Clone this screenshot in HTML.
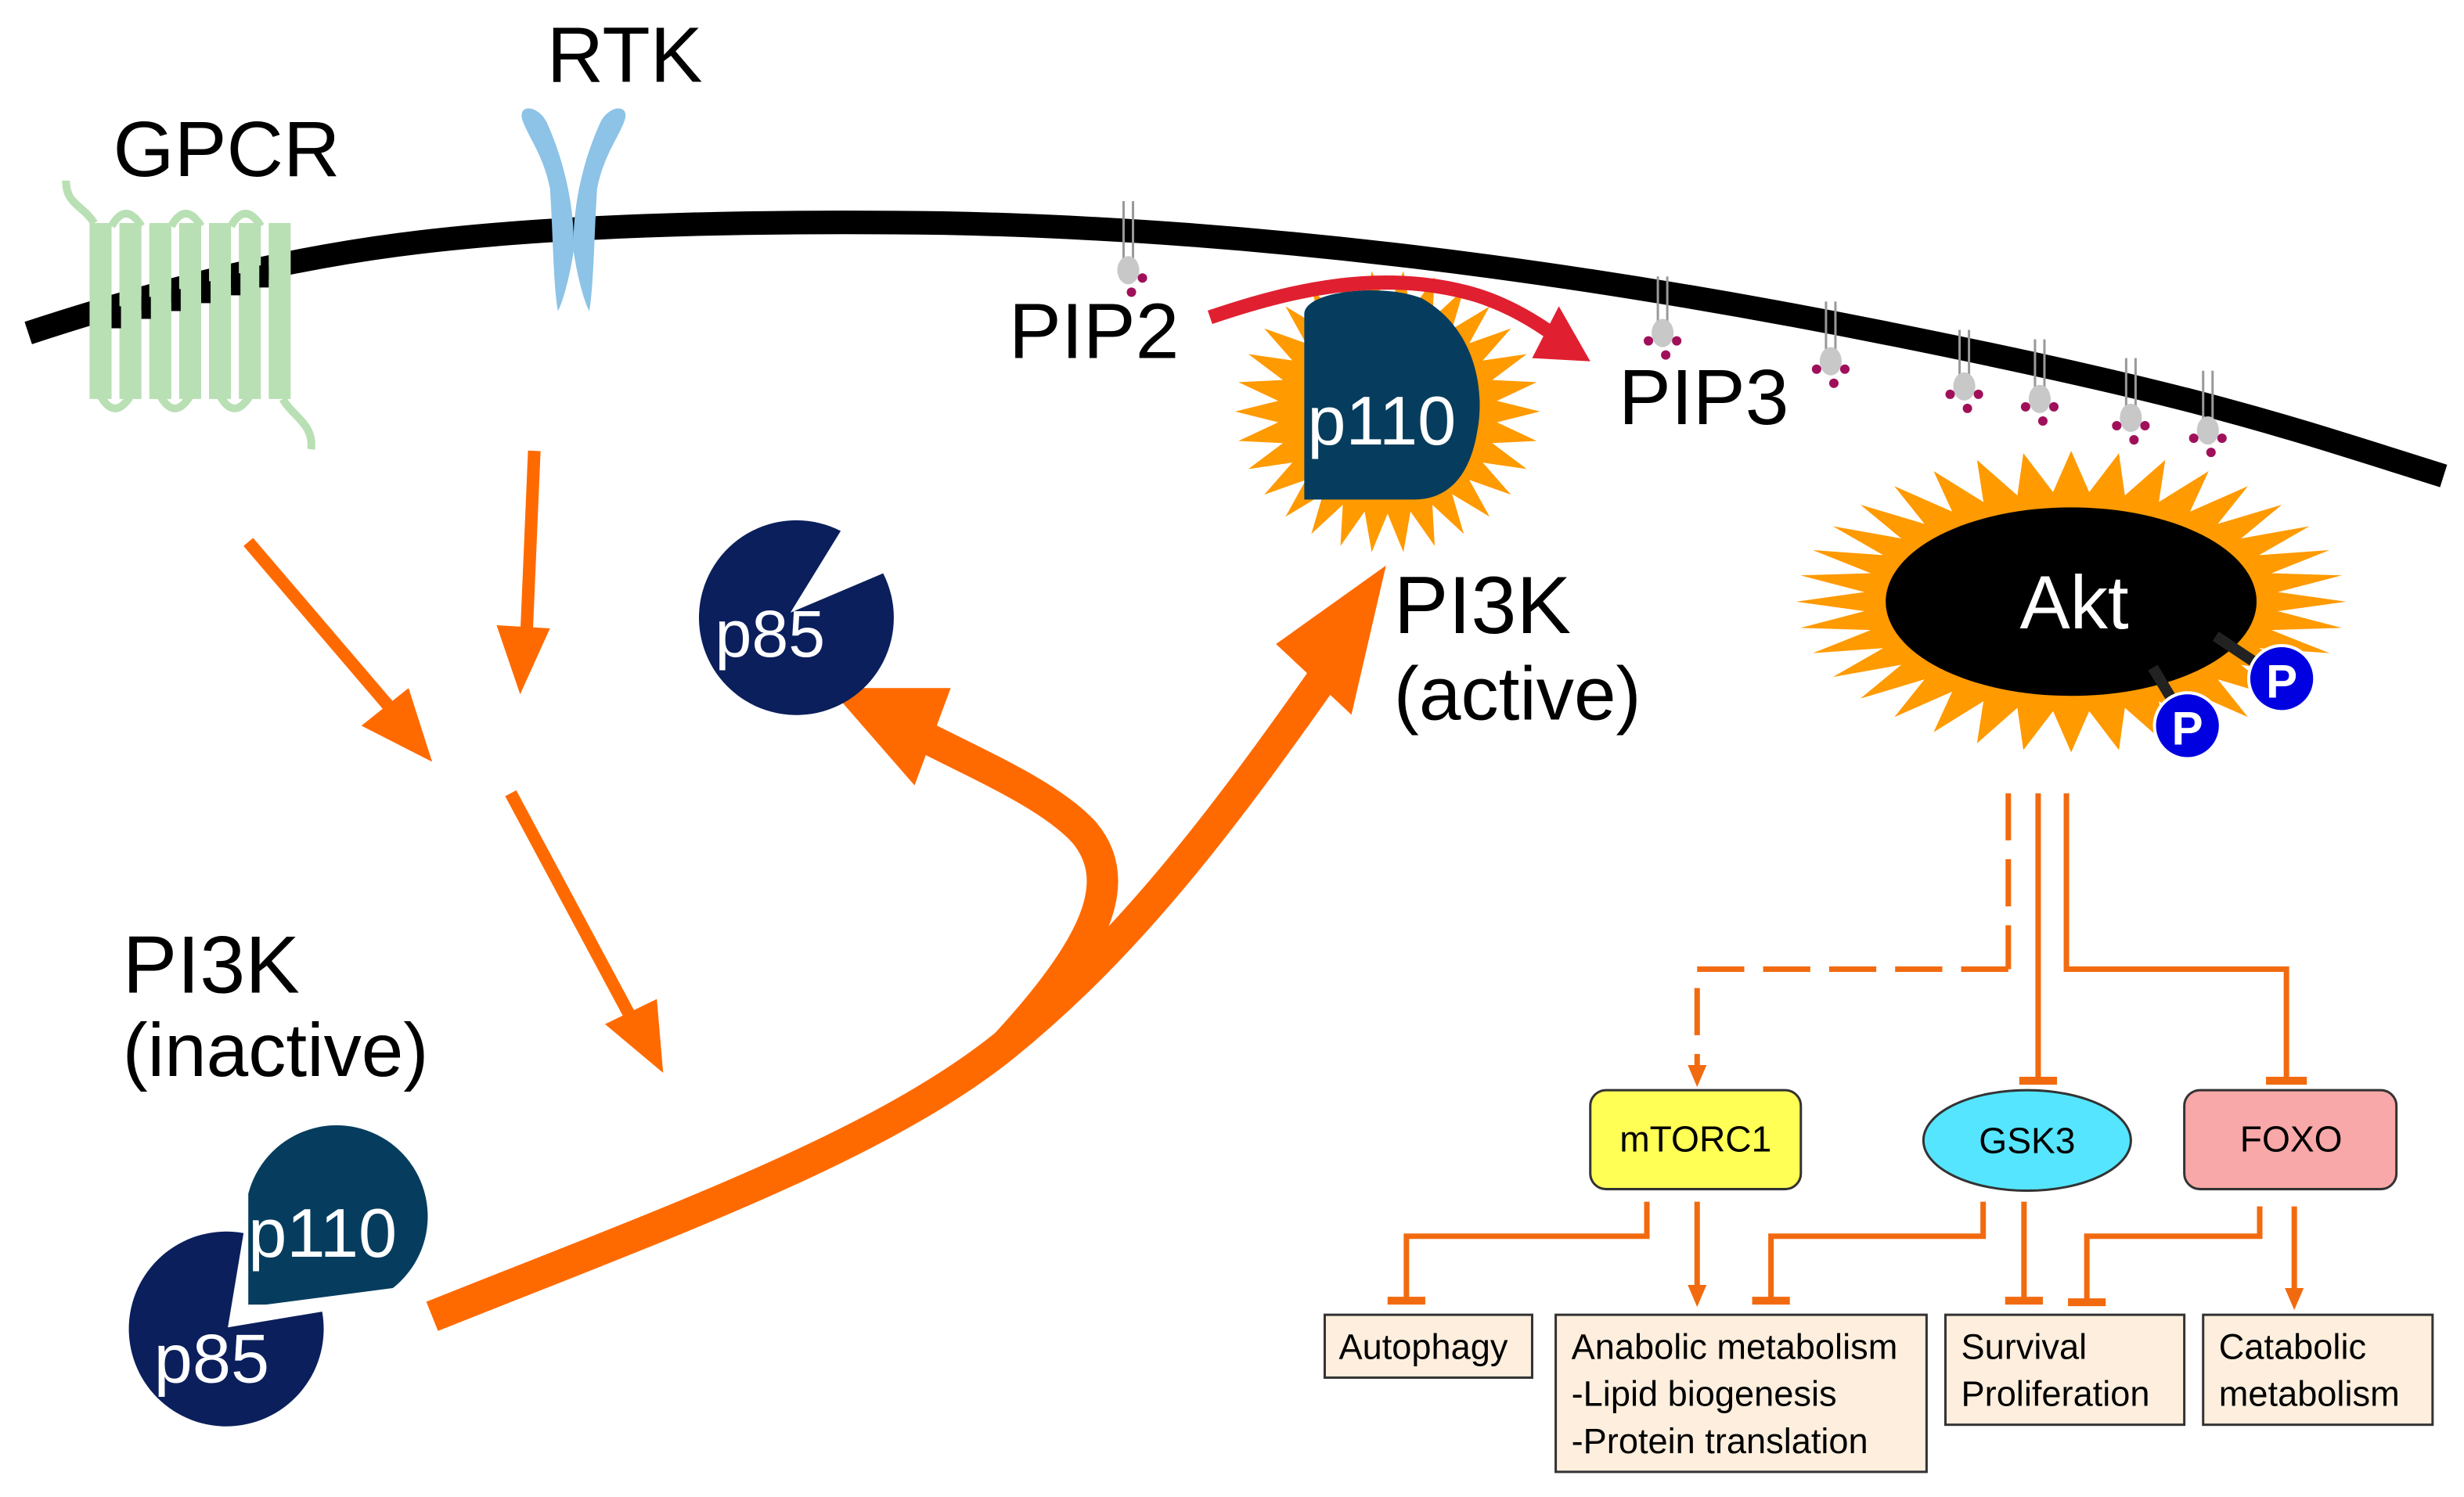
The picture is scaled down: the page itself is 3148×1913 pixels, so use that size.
<!DOCTYPE html>
<html><head><meta charset="utf-8"><style>
html,body{margin:0;padding:0;background:#fff;}
svg{display:block;}
text{font-family:"Liberation Sans",Arial,sans-serif;}
</style></head><body>
<svg id="s" width="3148" height="1913" viewBox="0 0 1568 953" preserveAspectRatio="none" xmlns="http://www.w3.org/2000/svg">
<!-- membrane -->
<path d="M18,212 C100,185 180,165 260,155 S450,140 600,142 C800,146 1000,172 1200,212 S1450,270 1555,303" fill="none" stroke="#000" stroke-width="15"/>
<!-- GPCR -->
<g fill="#b8e0b4">
<rect x="57" y="142" width="14" height="112"/><rect x="76" y="142" width="14" height="112"/><rect x="95" y="142" width="14" height="112"/><rect x="114" y="142" width="14" height="112"/><rect x="133" y="142" width="14" height="112"/><rect x="152" y="142" width="14" height="112"/><rect x="171" y="142" width="14" height="112"/>
</g>
<g fill="none" stroke="#b8e0b4" stroke-width="5">
<path d="M71,144 Q80,128 90,144 M109,144 Q118,128 128,144 M147,144 Q156,128 166,144"/>
<path d="M64,252 Q73,268 83,252 M102,252 Q111,268 121,252 M140,252 Q149,268 159,252"/>
<path d="M60,142 C52,130 42,130 42,115"/><path d="M180,254 C186,265 200,270 198,286"/>
</g>
<path d="M74,209 L74,195 M93,203 L93,189 M112,198 L112,184 M131,193 L131,179 M150,188 L150,174 M168,183 L168,169" stroke="#000" stroke-width="6"/>
<text x="72" y="112" font-size="50">GPCR</text>
<!-- RTK -->
<path d="M333,78 C328,66 342,66 348,78 C358,100 366,130 365,160 C362,180 357,195 355,198 C352,180 352,150 350,120 C346,100 338,90 333,78z" fill="#8cc3e6"/>
<path d="M397,78 C402,66 388,66 382,78 C372,100 364,130 365,160 C368,180 373,195 375,198 C378,180 378,150 380,120 C384,100 392,90 397,78z" fill="#8cc3e6"/>
<text x="348" y="52" font-size="50">RTK</text>
<!-- small orange arrows -->
<g stroke="#ff6a00" stroke-width="8" fill="#ff6a00">
<line x1="158" y1="345" x2="252" y2="455"/><polygon points="275,485 230,462 260,438" stroke="none"/>
<line x1="340" y1="287" x2="335" y2="405"/><polygon points="331,442 316,398 350,400" stroke="none"/>
<line x1="325" y1="505" x2="400" y2="645"/><polygon points="422,683 385,652 418,636" stroke="none"/>
</g>
<!-- thick curved arrows -->
<path d="M275,838 C420,780 560,730 640,665 C720,600 780,520 850,420" fill="none" stroke="#ff6a00" stroke-width="20"/>
<polygon points="882,360 860,455 812,410" fill="#ff6a00"/>
<path d="M640,665 C700,600 715,560 690,530 C670,508 630,490 590,470" fill="none" stroke="#ff6a00" stroke-width="20"/>
<polygon points="528,438 605,438 582,500" fill="#ff6a00"/>
<!-- p85 top -->
<path d="M503,390 L535,338 A62,62 0 1 0 562,365 Z" fill="#0b1f5c"/>
<text x="455" y="418" font-size="42" fill="#fff">p85</text>
<!-- inactive complex -->
<text x="78" y="632" font-size="52">PI3K</text>
<text x="78" y="685" font-size="48">(inactive)</text>
<path d="M158,832 L158,760 A58,58 0 1 1 250,820 Z" fill="#063d5e"/>
<path d="M145,845 L155,785 A62,62 0 1 0 205,835 Z" fill="#0b1f5c"/>
<path d="M158,832 L210,832" stroke="#fff" stroke-width="3"/>
<text x="158" y="800" font-size="44" fill="#fff">p110</text>
<text x="98" y="880" font-size="44" fill="#fff">p85</text>
<!-- stars -->
<g id="stars"><ellipse cx="883" cy="265" rx="85" ry="80" fill="#ff9a00"/><ellipse cx="1318" cy="383" rx="160" ry="85" fill="#ff9a00"/></g>
<path d="M830,200 C830,185 880,180 905,190 C940,210 945,250 940,275 C935,305 920,318 900,318 L830,318 Z" fill="#063d5e"/>
<text x="832" y="283" font-size="44" fill="#fff">p110</text>
<text x="887" y="403" font-size="52">PI3K</text>
<text x="887" y="458" font-size="48">(active)</text>
<!-- Akt -->
<ellipse cx="1318" cy="383" rx="118" ry="60" fill="#000"/>
<line x1="1410" y1="405" x2="1440" y2="425" stroke="#222" stroke-width="7"/>
<line x1="1370" y1="425" x2="1385" y2="450" stroke="#222" stroke-width="7"/>
<text x="1320" y="400" font-size="48" fill="#fff" text-anchor="middle">Akt</text>
<circle cx="1452" cy="432" r="21" fill="#0000e0" stroke="#fff" stroke-width="2"/>
<circle cx="1392" cy="462" r="21" fill="#0000e0" stroke="#fff" stroke-width="2"/>
<text x="1452" y="444" font-size="30" font-weight="bold" fill="#fff" text-anchor="middle">P</text>
<text x="1392" y="474" font-size="30" font-weight="bold" fill="#fff" text-anchor="middle">P</text>
<!-- red arrow -->
<path d="M770,202 C820,185 880,170 940,188 C965,196 985,210 995,218" fill="none" stroke="#e02030" stroke-width="9"/>
<polygon points="1012,230 975,228 992,195" fill="#e02030"/>
<text x="642" y="228" font-size="50">PIP2</text>
<text x="1030" y="270" font-size="50">PIP3</text>
<!-- lipids -->
<g id="lipids"></g>
<!-- lower pathways -->
<g stroke="#f26a10" stroke-width="3.5" fill="none">
<line x1="1278" y1="505" x2="1278" y2="617" stroke-dasharray="30,12"/>
<path d="M1278,617 L1080,617 L1080,680" stroke-dasharray="30,12"/>
<line x1="1297" y1="505" x2="1297" y2="688"/><line x1="1285" y1="688" x2="1309" y2="688" stroke-width="5"/>
<path d="M1315,505 L1315,617 L1455,617 L1455,688"/><line x1="1442" y1="688" x2="1468" y2="688" stroke-width="5"/>
<path d="M1048,765 L1048,787 L895,787 L895,827"/><line x1="883" y1="828" x2="907" y2="828" stroke-width="5"/>
<line x1="1080" y1="765" x2="1080" y2="820"/>
<path d="M1262,765 L1262,787 L1127,787 L1127,827"/><line x1="1115" y1="828" x2="1139" y2="828" stroke-width="5"/>
<line x1="1288" y1="765" x2="1288" y2="827"/><line x1="1276" y1="828" x2="1300" y2="828" stroke-width="5"/>
<path d="M1438,768 L1438,787 L1328,787 L1328,828"/><line x1="1316" y1="829" x2="1340" y2="829" stroke-width="5"/>
<line x1="1460" y1="768" x2="1460" y2="822"/>
</g>
<g fill="#f26a10"><polygon points="1074,678 1086,678 1080,692"/><polygon points="1074,818 1086,818 1080,832"/><polygon points="1454,820 1466,820 1460,834"/></g>
<rect x="1012" y="694" width="134" height="63" rx="10" fill="#ffff55" stroke="#333" stroke-width="1.5"/>
<text x="1079" y="733" font-size="23" text-anchor="middle">mTORC1</text>
<ellipse cx="1290" cy="726" rx="66" ry="32" fill="#55e5ff" stroke="#333" stroke-width="1.5"/>
<text x="1290" y="734" font-size="23" text-anchor="middle">GSK3</text>
<rect x="1390" y="694" width="135" height="63" rx="10" fill="#f8a8a8" stroke="#333" stroke-width="1.5"/>
<text x="1458" y="733" font-size="23" text-anchor="middle">FOXO</text>
<g fill="#fdeedd" stroke="#333" stroke-width="1.5">
<rect x="843" y="837" width="132" height="40"/><rect x="990" y="837" width="236" height="100"/><rect x="1238" y="837" width="152" height="70"/><rect x="1402" y="837" width="146" height="70"/>
</g>
<g font-size="22.5">
<text x="852" y="865">Autophagy</text>
<text x="1000" y="865">Anabolic metabolism</text><text x="1000" y="895">-Lipid biogenesis</text><text x="1000" y="925">-Protein translation</text>
<text x="1248" y="865">Survival</text><text x="1248" y="895">Proliferation</text>
<text x="1412" y="865">Catabolic</text><text x="1412" y="895">metabolism</text>
</g>
</svg>
<script>
(function(){
var ns="http://www.w3.org/2000/svg";
function star(cx,cy,rxo,ryo,rxi,ryi,n){var p=[];for(var i=0;i<2*n;i++){var a=Math.PI*i/n;var o=i%2==0;p.push((cx+(o?rxo:rxi)*Math.cos(a)).toFixed(1)+","+(cy+(o?ryo:ryi)*Math.sin(a)).toFixed(1));}
var e=document.createElementNS(ns,"polygon");e.setAttribute("points",p.join(" "));e.setAttribute("fill","#ff9a00");return e;}
var g=document.getElementById("stars");g.innerHTML="";
g.appendChild(star(883,262,97,90,70,65,30));
g.appendChild(star(1318,383,175,96,132,70,36));
var L=document.getElementById("lipids");
var pts=[[718,128,172],[1058,176,212],[1165,192,230],[1250,210,246],[1298,216,254],[1356,228,266],[1405,236,274]];
pts.forEach(function(q){var x=q[0],t=q[1],h=q[2];
var s='<line x1="'+(x-3)+'" y1="'+t+'" x2="'+(x-3)+'" y2="'+(h-6)+'" stroke="#999" stroke-width="1.5"/><line x1="'+(x+3)+'" y1="'+t+'" x2="'+(x+3)+'" y2="'+(h-6)+'" stroke="#999" stroke-width="1.5"/><ellipse cx="'+x+'" cy="'+h+'" rx="7" ry="9" fill="#c8c8c8"/><circle cx="'+(x+9)+'" cy="'+(h+5)+'" r="3" fill="#a0105a"/><circle cx="'+(x+2)+'" cy="'+(h+14)+'" r="3" fill="#a0105a"/>';
if(x>1000) s+='<circle cx="'+(x-9)+'" cy="'+(h+5)+'" r="3" fill="#a0105a"/>';
L.insertAdjacentHTML("beforeend",s);});
})();
</script>
</body></html>
